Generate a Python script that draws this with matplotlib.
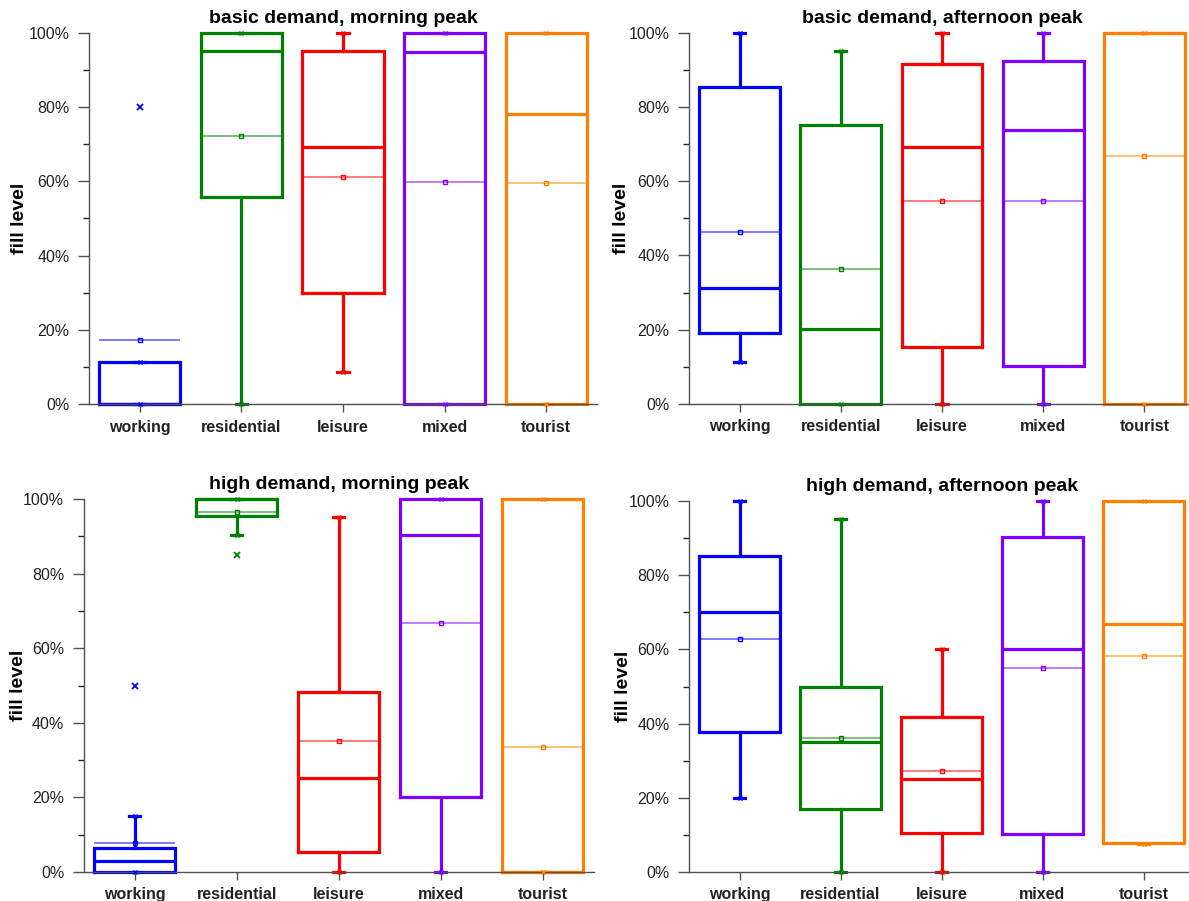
import matplotlib
matplotlib.use("Agg")
import matplotlib.pyplot as plt
from matplotlib.ticker import FixedLocator

plt.rcParams['font.family'] = ['Liberation Sans', 'DejaVu Sans']

categories = ["working", "residential", "leisure", "mixed", "tourist"]
colors = ["#0000FF", "#008000", "#FF0000", "#8000FF", "#FF8000"]
titles = ["basic demand, morning peak", "basic demand, afternoon peak",
          "high demand, morning peak", "high demand, afternoon peak"]
y_ticks = [0, 20, 40, 60, 80, 100]
y_tick_labels = ["0%", "20%", "40%", "60%", "80%", "100%"]
y_minor_ticks = [10, 30, 50, 70, 90]
y_label = "fill level"

# basic demand, morning peak
bm_whislo = [0, 0, 8.6, 0, 0]
bm_q1 = [0, 55.7, 29.9, 0, 0]
bm_med = [0, 95.2, 69.2, 94.7, 78.0]
bm_q3 = [11.5, 100, 95.2, 100, 100]
bm_whishi = [11.5, 100, 100, 100, 100]
bm_mean = [17.2, 72.2, 61.1, 59.9, 59.5]
bm_fliers = [[80], [], [], [], []]

# basic demand, afternoon peak
ba_whislo = [11.3, 0, 0, 0, 0]
ba_q1 = [19.2, 0, 15.3, 10.1, 0]
ba_med = [31.3, 20.1, 69.1, 73.9, 100]
ba_q3 = [85.3, 75.1, 91.6, 92.3, 100]
ba_whishi = [100, 95.2, 100, 100, 100]
ba_mean = [46.4, 36.4, 54.8, 54.6, 66.9]
ba_fliers = [[], [], [], [], []]

# high demand, morning peak
hm_whislo = [0, 90.3, 0, 0, 0]
hm_q1 = [0, 95.4, 5.4, 20.0, 0]
hm_med = [2.9, 100, 25.1, 90.3, 0]
hm_q3 = [6.5, 100, 48.2, 100, 100]
hm_whishi = [14.9, 100, 95.3, 100, 100]
hm_mean = [7.7, 96.4, 35.0, 66.8, 33.4]
hm_fliers = [[50], [85.1], [], [], []]

# high demand, afternoon peak
ha_whislo = [20.0, 0, 0, 0, 7.6]
ha_q1 = [37.8, 17.0, 10.4, 10.3, 7.7]
ha_med = [70.1, 35.1, 25.0, 60.1, 66.8]
ha_q3 = [85.2, 50.0, 41.9, 90.2, 100]
ha_whishi = [100, 95.2, 60.1, 100, 100]
ha_mean = [62.8, 36.0, 27.3, 55.1, 58.3]
ha_fliers = [[], [], [], [], []]

panels = [
    (bm_whislo, bm_q1, bm_med, bm_q3, bm_whishi, bm_mean, bm_fliers),
    (ba_whislo, ba_q1, ba_med, ba_q3, ba_whishi, ba_mean, ba_fliers),
    (hm_whislo, hm_q1, hm_med, hm_q3, hm_whishi, hm_mean, hm_fliers),
    (ha_whislo, ha_q1, ha_med, ha_q3, ha_whishi, ha_mean, ha_fliers),
]

FIG_W, FIG_H = 1189, 901
# axes rectangles in pixels: left, bottom(from top), width, height
axes_px = [
    (89, 404.3, 508, 371.6),
    (689, 404.0, 506, 371.3),
    (83.6, 872.0, 510, 373.0),
    (689, 872.0, 505, 371.0),
]
ylabel_offset_px = [70, 68, 65, 65.5]

fig = plt.figure(figsize=(FIG_W / 100, FIG_H / 100), dpi=100)
spine_col = "#505050"
box_lw = 2.3

for (lx, by, w, h), lab_off, title, data in zip(axes_px, ylabel_offset_px,
                                                titles, panels):
    ax = fig.add_axes([lx / FIG_W, 1 - by / FIG_H, w / FIG_W, h / FIG_H])
    whislo, q1, med, q3, whishi, mean, fliers = data
    positions = list(range(1, len(categories) + 1))
    stats = []
    for i, cat in enumerate(categories):
        stats.append(dict(label=cat, whislo=whislo[i], q1=q1[i], med=med[i],
                          q3=q3[i], whishi=whishi[i], mean=mean[i],
                          fliers=fliers[i]))
    art = ax.bxp(stats, positions=positions, widths=0.8, capwidths=0.11,
                 showmeans=True, meanline=True, showfliers=False,
                 manage_ticks=False)
    for i, c in enumerate(colors):
        for key in ("boxes", "medians"):
            a = art[key][i]
            a.set_color(c); a.set_linewidth(box_lw); a.set_clip_on(False)
            a.set_solid_joinstyle("miter")
        for key in ("whiskers", "caps"):
            for a in art[key][2 * i:2 * i + 2]:
                a.set_color(c); a.set_linewidth(box_lw); a.set_clip_on(False)
        m = art["means"][i]
        m.set_color(c); m.set_linestyle("-"); m.set_linewidth(1.1)
        m.set_alpha(0.65); m.set_clip_on(False)
        # mean marker
        ax.plot([positions[i]], [mean[i]], marker="s", markersize=3.5,
                markerfacecolor="none", markeredgecolor=c,
                markeredgewidth=1.0, linestyle="none", clip_on=False, zorder=5)
        # min / max markers
        ax.plot([positions[i]] * 2, [whislo[i], whishi[i]], marker="x",
                markersize=3, markeredgewidth=1.0, color=c, linestyle="none",
                clip_on=False, zorder=5)
        if fliers[i]:
            ax.plot([positions[i]] * len(fliers[i]), fliers[i], marker="x",
                    markersize=4.5, markeredgewidth=1.3, color=c,
                    linestyle="none", clip_on=False, zorder=5)

    ax.set_xlim(0.5, len(categories) + 0.5)
    ax.set_ylim(0, 100)
    ax.set_xticks(positions)
    ax.set_xticklabels(categories, fontsize=11.5, fontweight="bold",
                       color="#222222")
    ax.set_yticks(y_ticks)
    ax.set_yticklabels(y_tick_labels, fontsize=11.5, color="#222222")
    ax.yaxis.set_minor_locator(FixedLocator(y_minor_ticks))
    ax.tick_params(axis="y", which="major", direction="out", length=8,
                   width=1.0, color=spine_col, pad=6)
    ax.tick_params(axis="y", which="minor", direction="out", length=4,
                   width=1.0, color="#222222")
    ax.tick_params(axis="x", which="major", direction="out", length=6,
                   width=1.0, color=spine_col, pad=5)
    for s in ("top", "right"):
        ax.spines[s].set_visible(False)
    for s in ("left", "bottom"):
        ax.spines[s].set_color(spine_col)
        ax.spines[s].set_linewidth(1.0)
    ax.set_ylabel(y_label, fontsize=14, fontweight="bold")
    ax.yaxis.label.set_va("center")
    ax.yaxis.set_label_coords(-lab_off / w, 0.5)
    ax.set_title(title, fontsize=14, fontweight="bold", pad=7)
    ax.set_facecolor("none")

fig.savefig("out.png", dpi=100)
